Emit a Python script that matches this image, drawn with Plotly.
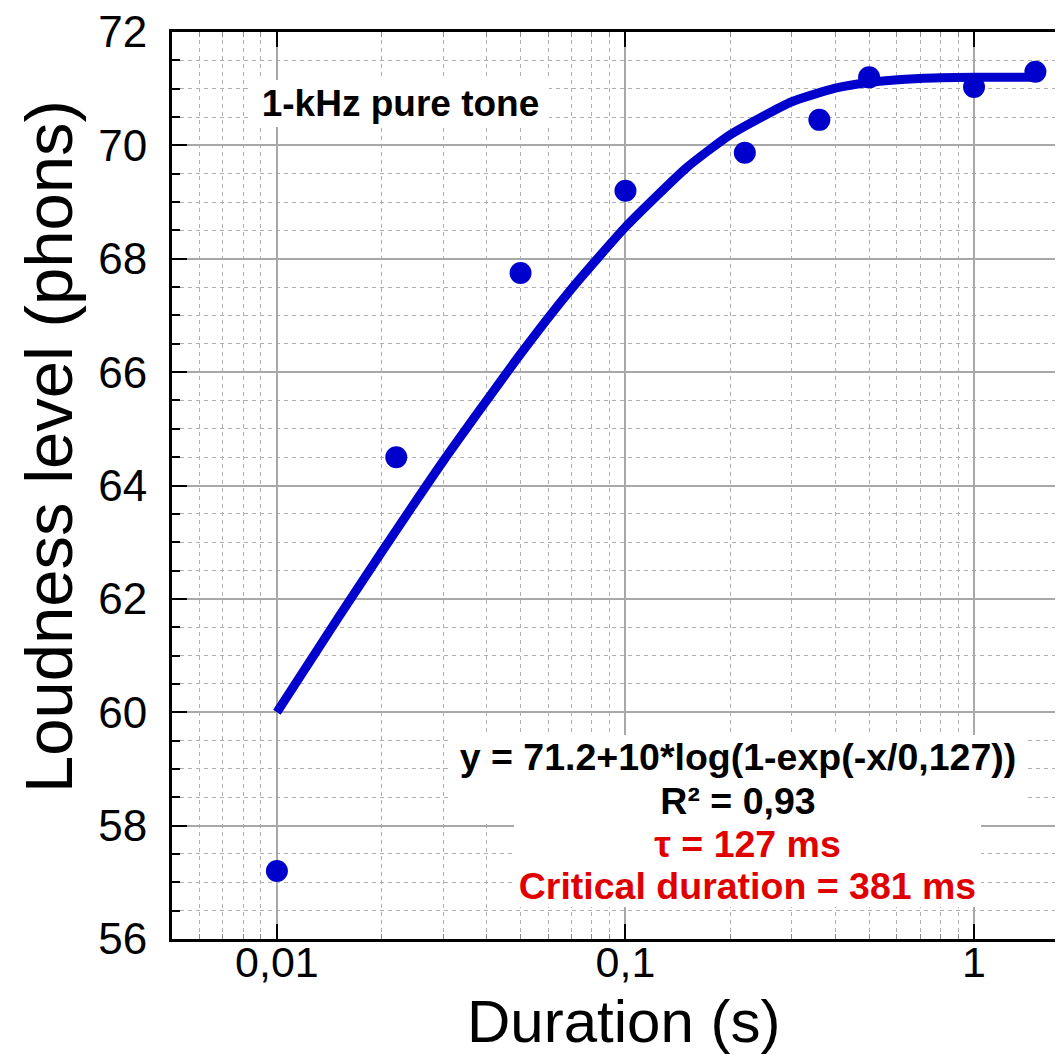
import plotly.graph_objects as go

durations = [0.01, 0.022, 0.05, 0.1, 0.22, 0.36, 0.5, 1.0, 1.5]
loudness = [57.2, 64.5, 67.75, 69.2, 69.87, 70.45, 71.2, 71.03, 71.3]

# Fitted curve points
fit_x = [0.01, 0.015, 0.02, 0.03, 0.05, 0.07, 0.1, 0.15, 0.2, 0.3, 0.4, 0.5, 0.7, 1.0, 1.5]
fit_y = [60.0, 61.67, 62.83, 64.43, 66.32, 67.47, 68.56, 69.61, 70.19, 70.77, 71.01, 71.11, 71.18, 71.2, 71.2]

x_tickvals = [0.01, 0.1, 1]
x_ticktext = ["0,01", "0,1", "1"]
x_minor = [0.006, 0.007, 0.008, 0.009,
           0.02, 0.03, 0.04, 0.05, 0.06, 0.07, 0.08, 0.09,
           0.2, 0.3, 0.4, 0.5, 0.6, 0.7, 0.8, 0.9]
y_tickvals = [56, 58, 60, 62, 64, 66, 68, 70, 72]

BLUE = "#0000CC"
RED = "#E00000"
FONT = "Liberation Sans, Arial, sans-serif"

# page body has an 8px default margin: size the figure so the plot lands where the reference has it
OFF = 8
W, H = 1063 - OFF, 1054 - OFF
L, R, T, B = 172 - OFF, 0, 32 - OFF, 115
PW = W - L - R
PH = H - T - B


def px2paper(px, py):
    # px, py: page pixel coordinates
    return (px - OFF - L) / PW, (H - B - (py - OFF)) / PH


fig = go.Figure()
fig.add_trace(go.Scatter(
    x=durations, y=loudness, mode="markers",
    marker=dict(size=22, color=BLUE, line=dict(width=0)),
    showlegend=False, hoverinfo="x+y"))
fig.add_trace(go.Scatter(
    x=fit_x, y=fit_y, mode="lines",
    line=dict(color=BLUE, width=9, shape="spline", smoothing=0.5),
    showlegend=False, hoverinfo="x+y"))

annotations = []

def box(text, cx, cy, w, h, color, size):
    ax, ay = px2paper(cx, cy)
    annotations.append(dict(
        text=text, x=ax, y=ay, xref="paper", yref="paper",
        xanchor="center", yanchor="middle", showarrow=False,
        width=w, height=h, bgcolor="white", borderpad=0, borderwidth=0,
        align="center", valign="middle",
        font=dict(family=FONT, size=size, color=color)))

box("<b>1-kHz pure tone</b>", 400, 103, 297, 47, "black", 37)
box("<b>y = 71.2+10*log(1-exp(-x/0,127))</b>", 738, 757, 576, 44, "black", 37.5)
box("<b>R² = 0,93</b>", 738, 800, 576, 43, "black", 37.5)
box("<b>τ = 127 ms</b>", 747, 843, 467, 43, RED, 37.5)
box("<b>Critical duration = 381 ms</b>", 747, 885, 467, 43, RED, 37.5)

# axis titles
tx, ty = px2paper(48, 447)
annotations.append(dict(text="Loudness level (phons)", x=tx, y=ty, xref="paper", yref="paper",
                        xanchor="center", yanchor="middle", textangle=-90, showarrow=False,
                        font=dict(family=FONT, size=67, color="black")))
tx, ty = px2paper(623, 1021)
annotations.append(dict(text="Duration (s)", x=tx, y=ty, xref="paper", yref="paper",
                        xanchor="center", yanchor="middle", showarrow=False,
                        font=dict(family=FONT, size=60, color="black")))

fig.update_layout(
    width=W, height=H,
    margin=dict(l=L, r=R, t=T, b=B, pad=0, autoexpand=False),
    paper_bgcolor="white", plot_bgcolor="white",
    annotations=annotations,
    xaxis=dict(
        type="log", range=[-2.301, 0.2553], automargin=False,
        tickmode="array", tickvals=x_tickvals, ticktext=x_ticktext,
        ticks="inside", ticklen=15, tickwidth=2, tickcolor="black",
        showline=True, linecolor="black", linewidth=3, mirror="ticks",
        showgrid=True, gridcolor="#A8A8A8", gridwidth=1.5,
        tickfont=dict(family=FONT, size=43, color="black"),
        ticklabelstandoff=-17, ticklabeloverflow="allow",
        minor=dict(tickmode="array", tickvals=x_minor, ticks="inside", ticklen=5,
                   tickwidth=1, tickcolor="#888888",
                   showgrid=True, gridcolor="#B0B0B0", gridwidth=1, griddash="4px,4px"),
        zeroline=False, fixedrange=True,
    ),
    yaxis=dict(
        range=[56, 72], automargin=False,
        tickmode="array", tickvals=y_tickvals,
        ticks="inside", ticklen=15, tickwidth=2, tickcolor="black",
        showline=True, linecolor="black", linewidth=3, mirror=False,
        showgrid=True, gridcolor="#A8A8A8", gridwidth=1.5,
        tickfont=dict(family=FONT, size=44, color="black"),
        ticklabelstandoff=13, ticklabeloverflow="allow",
        minor=dict(dtick=0.5, ticks="inside", ticklen=8, tickwidth=1.5, tickcolor="black",
                   showgrid=True, gridcolor="#B0B0B0", gridwidth=1, griddash="4px,4px"),
        zeroline=False, fixedrange=True,
    ),
)

fig.write_html("out.html", config={"displayModeBar": False})
